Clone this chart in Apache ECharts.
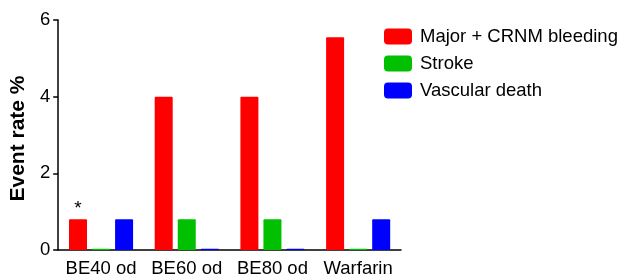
<!DOCTYPE html>
<html>
<head>
<meta charset="utf-8">
<script src="https://cdn.jsdelivr.net/npm/echarts@6/dist/echarts.min.js"></script>
<style>
  html, body { margin: 0; padding: 0; background: #fff; }
  #chart { width: 621px; height: 278px; }
</style>
</head>
<body>
<div id="chart"></div>
<script>
// kategoriler ve seriler
const categories = ["BE40 od", "BE60 od", "BE80 od", "Warfarin"];
const bleeding = [0.8, 4.0, 4.0, 5.55];
const stroke = [0.03, 0.8, 0.8, 0.03];
const vascularDeath = [0.8, 0.03, 0.03, 0.8];
const yTicks = [0, 2, 4, 6];

const font = "Liberation Sans, Arial, sans-serif";

function bar(name, data, color, withStar) {
  return {
    name: name,
    type: "bar",
    barWidth: 18,
    barGap: "28%",
    itemStyle: { color: color, borderRadius: 1 },
    data: data.map((v, i) => {
      // yıldız işareti sadece ilk kırmızı çubukta
      if (withStar && i === 0) {
        return {
          value: v,
          label: {
            show: true, position: "top", formatter: "*",
            color: "#000", fontSize: 19, fontFamily: font, distance: 1
          }
        };
      }
      return v;
    })
  };
}

const myChart = echarts.init(document.getElementById("chart"));
const option = {
  animation: false,
  grid: { left: 58, right: 220, top: 20, bottom: 28 },
  legend: {
    orient: "vertical",
    left: 379,
    top: 22,
    itemWidth: 28,
    itemHeight: 16,
    itemGap: 8,
    icon: "roundRect",
    textStyle: { fontSize: 18.5, fontFamily: font, color: "#000", padding: [0, 0, 0, 3] },
    data: ["Major + CRNM bleeding", "Stroke", "Vascular death"]
  },
  xAxis: {
    type: "category",
    data: categories,
    axisLine: { lineStyle: { color: "#000", width: 1.5 } },
    axisTick: { alignWithLabel: true, length: 5, lineStyle: { color: "#000", width: 1.5 } },
    axisLabel: { color: "#000", fontSize: 18.5, fontFamily: font, margin: 9, interval: 0 }
  },
  yAxis: {
    type: "value",
    min: yTicks[0],
    max: yTicks[yTicks.length - 1],
    interval: 2,
    name: "Event rate %",
    nameLocation: "middle",
    nameGap: 22,
    nameTextStyle: {
      color: "#000", fontSize: 21, fontWeight: "bold", fontFamily: font,
      padding: [0, 7, 0, 0]
    },
    axisLine: { show: true, lineStyle: { color: "#000", width: 1.5 } },
    axisTick: { show: true, length: 5, lineStyle: { color: "#000", width: 1.5 } },
    axisLabel: { color: "#000", fontSize: 18.5, fontFamily: font, margin: 8 },
    splitLine: { show: false }
  },
  series: [
    bar("Major + CRNM bleeding", bleeding, "#ff0000", true),
    bar("Stroke", stroke, "#00c000", false),
    bar("Vascular death", vascularDeath, "#0000ff", false)
  ]
};
myChart.setOption(option);
</script>
</body>
</html>
